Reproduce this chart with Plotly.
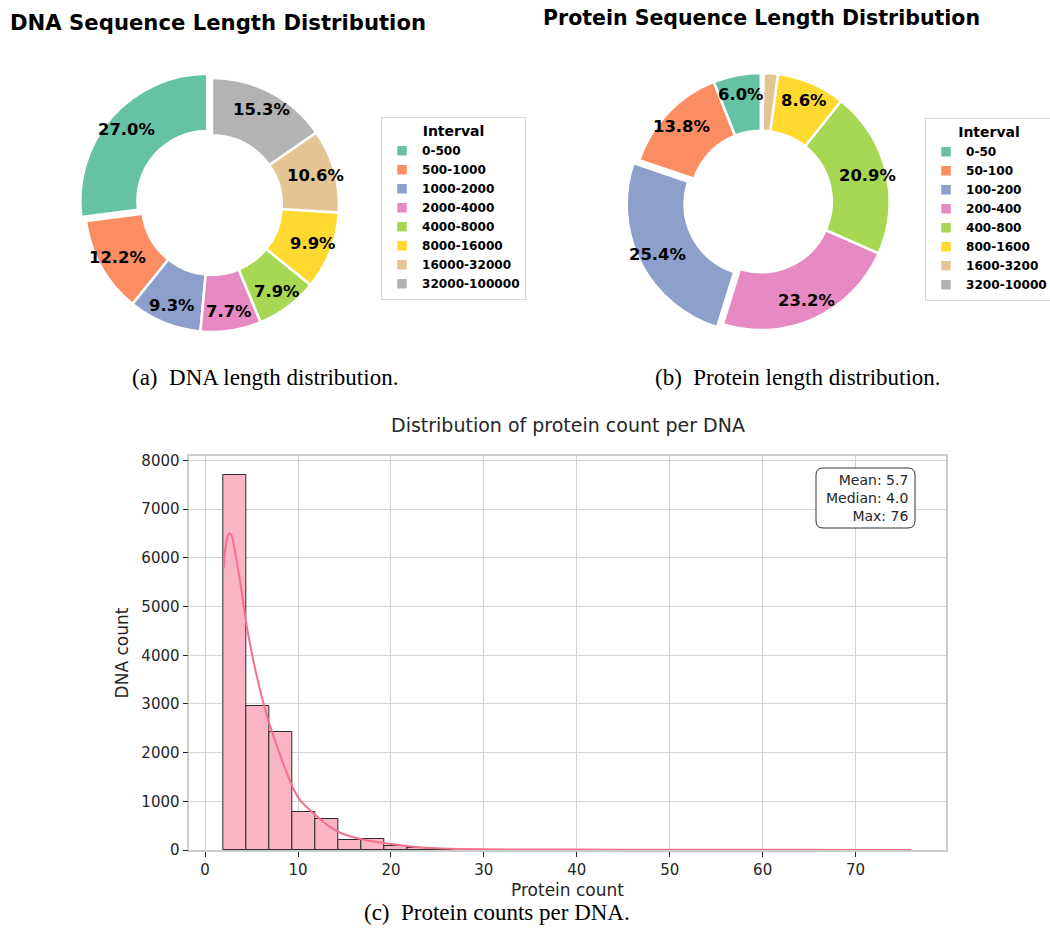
import math
import numpy as np
import plotly.graph_objects as go

# ---- DNA sequence length distribution (% of sequences) ----
dna_intervals = ["0-500", "500-1000", "1000-2000", "2000-4000", "4000-8000",
                 "8000-16000", "16000-32000", "32000-100000"]
dna_pct = [27.0, 12.2, 9.3, 7.7, 7.9, 9.9, 10.6, 15.3]

# ---- Protein sequence length distribution (% of sequences) ----
prot_intervals = ["0-50", "50-100", "100-200", "200-400", "400-800",
                  "800-1600", "1600-3200", "3200-10000"]
prot_pct = [6.0, 13.8, 25.4, 23.2, 20.9, 8.6, 1.8, 0.3]

# ---- Protein count per DNA: histogram counts (30 bins between min and max) ----
count_min, count_max = 2, 76
hist_counts = [7707, 2954, 2414, 773, 629, 205, 219, 75, 47, 20,
               15, 10, 8, 6, 5, 4, 3, 3, 2, 2,
               1, 1, 1, 0, 1, 0, 1, 0, 0, 1]
# KDE curve scaled to counts
kde_x = [2.0, 2.3, 2.6, 2.85, 3.2, 3.75, 4.5, 5.5, 6.9, 8.0, 9.4, 10.2, 11.7,
         13.4, 14.6, 16.7, 19.2, 22.4, 25.0, 30, 40, 50, 60, 70, 76]
kde_y = [5780, 6350, 6500, 6460, 6150, 5540, 4580, 3620, 2600, 1990, 1300, 1030,
         750, 480, 350, 226, 144, 68, 35, 15, 8, 5, 3, 2, 1]
stat_mean, stat_median, stat_max = 5.7, 4.0, 76

set2 = ["#66c2a5", "#fc8d62", "#8da0cb", "#e78ac3", "#a6d854",
        "#ffd92f", "#e5c494", "#b3b3b3"]

W, H = 1050, 929
PULL = 0.05
PCT_DIST = 0.85


def px_x(x):
    return x / W


def px_y(y):
    return 1 - y / H


def pull_largest(vals):
    m = max(vals)
    return [PULL if v == m else 0 for v in vals]


def start_at_top(vals):
    # plotly ends the first counterclockwise slice at 12 o'clock;
    # rotate so that it starts there instead
    return -360.0 * vals[0] / sum(vals)


def pct_annotations(vals, dom_x, dom_y, pulls):
    """Percentage labels placed at PCT_DIST of the radius, mid-slice."""
    x0, x1 = dom_x[0] * W, dom_x[1] * W
    y0, y1 = (1 - dom_y[1]) * H, (1 - dom_y[0]) * H
    cx, cy = (x0 + x1) / 2, (y0 + y1) / 2
    r = min(x1 - x0, y1 - y0) / (2 + 2 * max(pulls))
    total = sum(vals)
    out, cum = [], 0.0
    for v, p in zip(vals, pulls):
        theta = math.radians(90 + 360 * (cum + v / 2) / total)
        cum += v
        if v < 5:
            continue
        d = (PCT_DIST + p) * r
        out.append(dict(
            text=f"<b>{v:.1f}%</b>", x=px_x(cx + d * math.cos(theta)),
            y=px_y(cy - d * math.sin(theta)), xref="paper", yref="paper",
            xanchor="center", yanchor="middle", showarrow=False,
            font=dict(family="DejaVu Sans", size=16.4, color="black")))
    return out


fig = go.Figure()

pie_common = dict(
    hole=0.55, sort=False, direction="counterclockwise",
    textinfo="none",
    marker=dict(colors=set2, line=dict(color="white", width=2.5)),
    hoverinfo="label+percent",
)

dna_dom = dict(x=[px_x(78.7), px_x(345.3)], y=[px_y(338.3), px_y(71.7)])
prot_dom = dict(x=[px_x(626), px_x(896)], y=[px_y(336.5), px_y(66.5)])
dna_pull = pull_largest(dna_pct)
prot_pull = pull_largest(prot_pct)

fig.add_trace(go.Pie(
    labels=dna_intervals, values=dna_pct, pull=dna_pull,
    rotation=start_at_top(dna_pct), domain=dna_dom,
    legend="legend", **pie_common))

fig.add_trace(go.Pie(
    labels=prot_intervals, values=prot_pct, pull=prot_pull,
    rotation=start_at_top(prot_pct), domain=prot_dom,
    legend="legend2", **pie_common))

# ---- histogram ----
edges = np.linspace(count_min, count_max, len(hist_counts) + 1)
centers = (edges[:-1] + edges[1:]) / 2
bw = edges[1] - edges[0]
# bars that are flatter than the line width are drawn without an outline
edge_w = [1 if c >= 20 else 0 for c in hist_counts]

fig.add_trace(go.Bar(
    x=centers, y=hist_counts, width=bw,
    marker=dict(color="#f9b5c4", line=dict(color="#2b2b2b", width=edge_w)),
    showlegend=False, xaxis="x", yaxis="y"))

fig.add_trace(go.Scatter(
    x=kde_x, y=kde_y, mode="lines",
    line=dict(color="#f5708b", width=2, shape="spline", smoothing=0.8),
    showlegend=False, xaxis="x", yaxis="y"))

legend_common = dict(
    bgcolor="white", bordercolor="#d6d6d6", borderwidth=1,
    font=dict(family="DejaVu Sans", size=12.1, color="black", weight="bold"),
    title=dict(text="<b>Interval</b>", side="top center",
               font=dict(family="DejaVu Sans", size=14, color="black")),
    xanchor="left", yanchor="top", traceorder="normal",
    itemwidth=30, tracegroupgap=0,
)

axis_font = dict(family="DejaVu Sans", size=15, color="#262626")
label_font = dict(family="DejaVu Sans", size=17, color="#262626")

fig.update_layout(
    width=W, height=H,
    # legends reaching the page edge must not shrink the drawing area
    margin=dict(l=0, r=0, t=0, b=0, autoexpand=False),
    paper_bgcolor="white", plot_bgcolor="white",
    legend=dict(x=px_x(381), y=px_y(117), **legend_common),
    legend2=dict(x=px_x(925), y=px_y(118), **legend_common),
    bargap=0,
    xaxis=dict(
        domain=[px_x(189.3), px_x(945.7)], anchor="y",
        range=[count_min - 0.05 * (count_max - count_min),
               count_max + 0.05 * (count_max - count_min)],
        tickmode="array", tickvals=[0, 10, 20, 30, 40, 50, 60, 70],
        ticks="outside", ticklen=5, tickcolor="#262626", tickwidth=1.2,
        showgrid=True, gridcolor="#d3d3d3", gridwidth=1, zeroline=False,
        showline=True, linecolor="#cccccc", linewidth=1.5, mirror=True,
        tickfont=axis_font,
        title=dict(text="Protein count", font=label_font, standoff=6),
    ),
    yaxis=dict(
        domain=[px_y(850), px_y(456)], anchor="x",
        range=[0, max(hist_counts) * 1.05],
        tickmode="array", tickvals=list(range(0, 8001, 1000)),
        ticks="outside", ticklen=5, tickcolor="#262626", tickwidth=1.2,
        showgrid=True, gridcolor="#d3d3d3", gridwidth=1, zeroline=False,
        showline=True, linecolor="#cccccc", linewidth=1.5, mirror=True,
        tickfont=axis_font,
        title=dict(text="DNA count", font=label_font, standoff=8),
    ),
)

paper = dict(xref="paper", yref="paper", showarrow=False)
ann = []
ann += pct_annotations(dna_pct, dna_dom["x"], dna_dom["y"], dna_pull)
ann += pct_annotations(prot_pct, prot_dom["x"], prot_dom["y"], prot_pull)
# panel titles
ann.append(dict(text="<b>DNA Sequence Length Distribution</b>", x=px_x(8), y=px_y(22),
                xanchor="left", yanchor="middle",
                font=dict(family="DejaVu Sans", size=21.2, color="black"), **paper))
ann.append(dict(text="<b>Protein Sequence Length Distribution</b>", x=px_x(761.5), y=px_y(18),
                xanchor="center", yanchor="middle",
                font=dict(family="DejaVu Sans", size=20.5, color="black"), **paper))
ann.append(dict(text="Distribution of protein count per DNA", x=px_x(567.5), y=px_y(425),
                xanchor="center", yanchor="middle",
                font=dict(family="DejaVu Sans", size=19, color="#262626"), **paper))
# captions
cap_font = dict(family="Liberation Serif", size=23, color="black")
ann.append(dict(text="(a)  DNA length distribution.", x=px_x(265), y=px_y(377),
                xanchor="center", yanchor="middle", font=cap_font, **paper))
ann.append(dict(text="(b)  Protein length distribution.", x=px_x(797.5), y=px_y(377),
                xanchor="center", yanchor="middle", font=cap_font, **paper))
ann.append(dict(text="(c)  Protein counts per DNA.", x=px_x(497), y=px_y(912),
                xanchor="center", yanchor="middle", font=cap_font, **paper))
# statistics box (rounded frame + right-aligned text)
bx0, bx1, by0, by1, rad = 816, 915, 468, 528, 7
rounded = (f"M {px_x(bx0 + rad)},{px_y(by0)} L {px_x(bx1 - rad)},{px_y(by0)} "
           f"Q {px_x(bx1)},{px_y(by0)} {px_x(bx1)},{px_y(by0 + rad)} "
           f"L {px_x(bx1)},{px_y(by1 - rad)} Q {px_x(bx1)},{px_y(by1)} {px_x(bx1 - rad)},{px_y(by1)} "
           f"L {px_x(bx0 + rad)},{px_y(by1)} Q {px_x(bx0)},{px_y(by1)} {px_x(bx0)},{px_y(by1 - rad)} "
           f"L {px_x(bx0)},{px_y(by0 + rad)} Q {px_x(bx0)},{px_y(by0)} {px_x(bx0 + rad)},{px_y(by0)} Z")
fig.add_shape(type="path", path=rounded, xref="paper", yref="paper",
              line=dict(color="#333333", width=1), fillcolor="white", layer="above")
ann.append(dict(text=f"Mean: {stat_mean:.1f}<br>Median: {stat_median:.1f}<br>Max: {stat_max}",
                x=px_x(bx1 - 5), y=px_y((by0 + by1) / 2), xanchor="right", yanchor="middle",
                align="right",
                font=dict(family="DejaVu Sans", size=14, color="#262626"), **paper))
fig.update_layout(annotations=ann)

fig.write_html("out.html")
